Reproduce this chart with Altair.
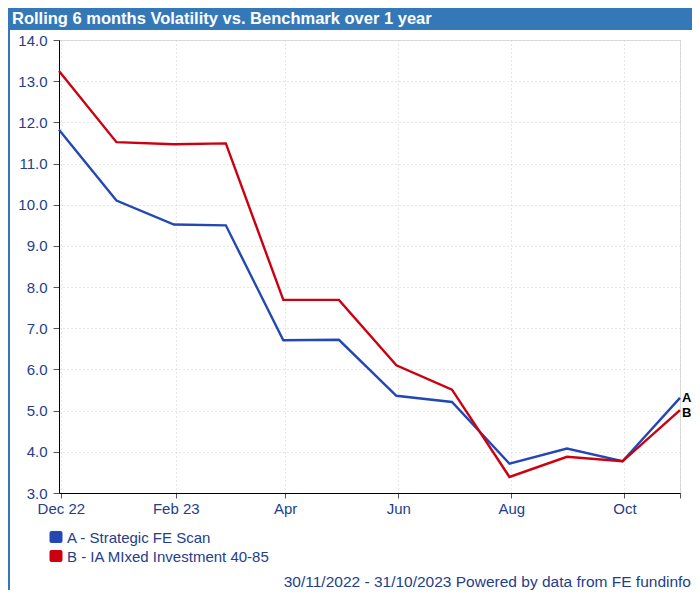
import altair as alt
import pandas as pd

# ---- data ----
dates = ["2022-11-30", "2022-12-31", "2023-01-31", "2023-02-28", "2023-03-31", "2023-04-30",
         "2023-05-31", "2023-06-30", "2023-07-31", "2023-08-31", "2023-09-30", "2023-10-31"]
fund_a = [11.82, 10.10, 9.52, 9.50, 6.71, 6.72, 5.36, 5.21, 3.71, 4.08, 3.77, 5.31]
bench_b = [13.25, 11.52, 11.47, 11.49, 7.69, 7.69, 6.10, 5.51, 3.39, 3.88, 3.77, 5.01]
series_names = ["A - Strategic FE Scan", "B - IA MIxed Investment 40-85"]
series_tags = ["A", "B"]
series_colors = ["#2447B3", "#CC0010"]
title_text = "Rolling 6 months Volatility vs. Benchmark over 1 year"
footer_text = "30/11/2022 - 31/10/2023 Powered by data from FE fundinfo"
y_ticks = [3, 4, 5, 6, 7, 8, 9, 10, 11, 12, 13, 14]

rows = []
for name, tag, vals in zip(series_names, series_tags, [fund_a, bench_b]):
    for d, v in zip(dates, vals):
        rows.append({"date": d, "value": v, "series": name, "tag": tag})
df = pd.DataFrame(rows)
last = df[df["date"] == dates[-1]]
last_a = last[last["tag"] == "A"]
last_b = last[last["tag"] == "B"]
leg = pd.DataFrame({"series": series_names})

NAVY = "#233E8B"
FONT = "Liberation Sans"
W, H = 621, 453
PL, PT, PR, PB = 51, 32, 12, 97

x_values = [alt.DateTime(year=2022, month=12, date=1, utc=True),
            alt.DateTime(year=2023, month=2, date=1, utc=True),
            alt.DateTime(year=2023, month=4, date=1, utc=True),
            alt.DateTime(year=2023, month=6, date=1, utc=True),
            alt.DateTime(year=2023, month=8, date=1, utc=True),
            alt.DateTime(year=2023, month=10, date=1, utc=True),
            alt.DateTime(year=2023, month=10, date=31, utc=True)]

xscale = alt.Scale(type="utc",
                   domain=[alt.DateTime(year=2022, month=11, date=30, utc=True),
                           alt.DateTime(year=2023, month=10, date=31, utc=True)])
yscale = alt.Scale(domain=[3, 14], nice=False, zero=False)
cscale = alt.Scale(domain=series_names, range=series_colors)

label_expr = ("utcdate(datum.value) != 1 ? '' : "
              "((utcmonth(datum.value) == 11 || utcmonth(datum.value) == 1) ? "
              "utcFormat(datum.value, '%b %y') : utcFormat(datum.value, '%b'))")

x_enc = alt.X("date:T", scale=xscale,
              axis=alt.Axis(values=x_values, labelExpr=label_expr, title=None,
                            grid=True, gridDash=[1, 3], gridColor="#cfcfcf",
                            domainColor="#000000", tickColor="#555555", tickSize=5,
                            labelColor=NAVY, labelFont=FONT, labelFontSize=15,
                            labelPadding=3, labelFlush=False))
y_enc = alt.Y("value:Q", scale=yscale,
              axis=alt.Axis(values=y_ticks, format=".1f", title=None,
                            grid=True, gridDash=[1, 3], gridColor="#cfcfcf",
                            domainColor="#000000", tickColor="#555555", tickSize=6,
                            labelColor=NAVY, labelFont=FONT, labelFontSize=15,
                            labelPadding=6))

lines = alt.Chart(df).mark_line(strokeWidth=2.4).encode(
    x=x_enc, y=y_enc, color=alt.Color("series:N", scale=cscale, legend=None))

tag_a = alt.Chart(last_a).mark_text(align="left", baseline="middle", dx=2, dy=0, fontSize=13,
                                    fontWeight="bold", font=FONT, color="#000000").encode(
    x=alt.X("date:T", scale=xscale), y=alt.Y("value:Q", scale=yscale), text="tag:N")
tag_b = alt.Chart(last_b).mark_text(align="left", baseline="middle", dx=2, dy=3, fontSize=13,
                                    fontWeight="bold", font=FONT, color="#000000").encode(
    x=alt.X("date:T", scale=xscale), y=alt.Y("value:Q", scale=yscale), text="tag:N")

# legend drawn below the axis
leg_layers = []
for i, name in enumerate(series_names):
    sub = leg[leg["series"] == name]
    y0 = 491 + 19 * i
    leg_layers.append(alt.Chart(sub).mark_rect(cornerRadius=2).encode(
        x=alt.value(-9.5), x2=alt.value(3.5), y=alt.value(y0), y2=alt.value(y0 + 12),
        color=alt.Color("series:N", scale=cscale, legend=None)))
    leg_layers.append(alt.Chart(sub).mark_text(align="left", baseline="middle", fontSize=15,
                                               font=FONT, color=NAVY).encode(
        x=alt.value(8), y=alt.value(y0 + 6.5), text="series:N"))

one = pd.DataFrame({"t": [title_text], "f": [footer_text]})

bar = alt.Chart(one).mark_rect(color="#3478B8").encode(
    x=alt.value(-PL), x2=alt.value(W + PR), y=alt.value(-PT), y2=alt.value(-10))
border = alt.Chart(one).mark_rect(color="#3478B8").encode(
    x=alt.value(-PL), x2=alt.value(-PL + 2), y=alt.value(-PT), y2=alt.value(H + PB))
title = alt.Chart(one).mark_text(align="left", baseline="alphabetic", fontSize=16.5,
                                 fontWeight="bold", font=FONT, color="#ffffff").encode(
    x=alt.value(-47), y=alt.value(-16), text="t:N")
footer = alt.Chart(one).mark_text(align="right", baseline="middle", fontSize=15.5,
                                  font=FONT, color=NAVY).encode(
    x=alt.value(W + PR - 1), y=alt.value(542), text="f:N")

chart = alt.layer(bar, border, title, footer, lines, tag_a, tag_b, *leg_layers).properties(
    width=W, height=H,
    autosize=alt.AutoSizeParams(type="none"),
    padding={"left": PL, "top": PT, "right": PR, "bottom": PB},
).configure_view(stroke=None).configure(background="#ffffff")

chart.save("out.html", embed_options={"renderer": "svg", "actions": False})
